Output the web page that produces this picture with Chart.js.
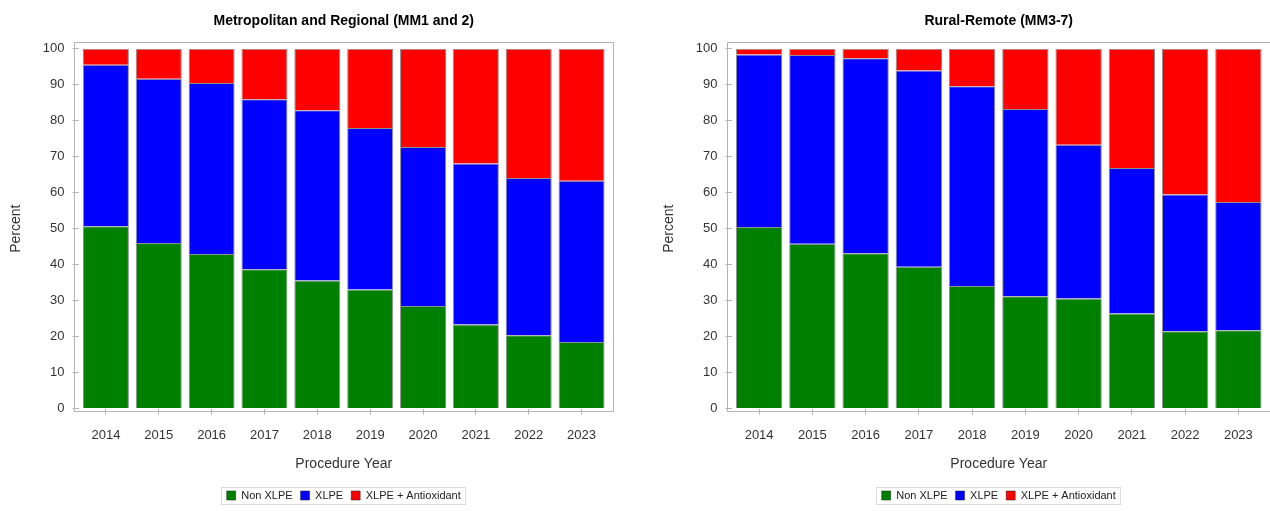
<!DOCTYPE html>
<html>
<head>
<meta charset="utf-8">
<script src="https://cdn.jsdelivr.net/npm/chart.js@4"></script>
<style>
  body { margin: 0; background: #fff; }
  .panel { position: absolute; top: 0; width: 635px; height: 511px; }
  #left { left: 0; }
  #right { left: 635px; }
</style>
</head>
<body>
<div class="panel" id="left"><canvas id="graficaMetro"></canvas></div>
<div class="panel" id="right"><canvas id="graficaRural"></canvas></div>
<script>
const years = ['2014','2015','2016','2017','2018','2019','2020','2021','2022','2023'];
const percentTicks = [0, 10, 20, 30, 40, 50, 60, 70, 80, 90, 100];
const seriesNames = ['Non XLPE', 'XLPE', 'XLPE + Antioxidant'];
const colors = ['#008000', '#0000FF', '#FF0000'];

// Metropolitan and Regional (MM1 and 2)
const metroNonXlpe = [50.7, 46.0, 43.0, 38.7, 35.6, 33.1, 28.5, 23.4, 20.4, 18.5];
const metroXlpe    = [44.9, 45.7, 47.5, 47.3, 47.3, 44.9, 44.2, 44.7, 43.7, 44.8];
const metroAntiox  = [4.4, 8.3, 9.5, 14.0, 17.1, 22.0, 27.3, 31.9, 35.9, 36.7];

// Rural-Remote (MM3-7)
const ruralNonXlpe = [50.5, 45.8, 43.2, 39.4, 34.1, 31.2, 30.6, 26.4, 21.5, 21.8];
const ruralXlpe    = [47.9, 52.5, 54.2, 54.6, 55.5, 52.1, 42.7, 40.5, 38.0, 35.6];
const ruralAntiox  = [1.6, 1.7, 2.6, 6.0, 10.4, 16.7, 26.7, 33.1, 40.5, 42.6];

const font = "'Liberation Sans Narrow', 'Liberation Sans', Arial, sans-serif";

// gray frame around the plot + border round the legend
const framePlugin = {
  id: 'frame',
  afterDraw(chart) {
    const ctx = chart.ctx;
    const a = chart.chartArea;
    ctx.save();
    ctx.strokeStyle = '#b4b4b4';
    ctx.lineWidth = 1;
    ctx.strokeRect(Math.round(a.left - 5) + 0.5, Math.round(a.top - 7) + 0.5,
                   Math.round(a.right - a.left + 10), Math.round(a.bottom - a.top + 9));
    const boxes = chart.legend.legendHitBoxes;
    if (boxes && boxes.length) {
      const l = Math.min(...boxes.map(b => b.left)) - 6;
      const r = Math.max(...boxes.map(b => b.left + b.width)) + 4;
      const t = boxes[0].top - 3;
      const h = boxes[0].height + 6;
      ctx.strokeStyle = '#dcdcdc';
      ctx.strokeRect(Math.round(l) + 0.5, Math.round(t) + 0.5, Math.round(r - l), Math.round(h));
    }
    ctx.restore();
  }
};

function makeChart(id, title, nonXlpe, xlpe, antiox, padLeft, padRight) {
  const data = {
    labels: years,
    datasets: [nonXlpe, xlpe, antiox].map((vals, i) => ({
      label: seriesNames[i],
      data: vals,
      backgroundColor: colors[i],
      borderColor: 'rgba(30,30,30,0.5)',
      borderWidth: 1,
      categoryPercentage: 1,
      barPercentage: 0.87
    }))
  };

  const config = {
    type: 'bar',
    data: data,
    options: {
      responsive: true,
      maintainAspectRatio: false,
      animation: false,
      layout: { padding: { left: padLeft, right: padRight, top: 0, bottom: 0 } },
      plugins: {
        title: {
          display: true,
          text: title,
          fullSize: false,
          color: '#000',
          font: { family: font, size: 14, weight: 'bold' },
          padding: { top: 13, bottom: 19 }
        },
        legend: {
          display: true,
          position: 'bottom',
          fullSize: false,
          labels: {
            color: '#222',
            font: { family: font, size: 11 },
            boxWidth: 9,
            boxHeight: 9,
            padding: 8,
            useBorderRadius: false
          }
        },
        tooltip: { enabled: false }
      },
      scales: {
        x: {
          stacked: true,
          grid: { display: true, drawOnChartArea: false, offset: false, tickLength: 6, tickColor: '#b4b4b4' },
          border: { display: false },
          ticks: { color: '#333', font: { family: font, size: 13 }, padding: 13, maxRotation: 0 },
          title: {
            display: true,
            text: 'Procedure Year',
            color: '#333',
            font: { family: font, size: 14 },
            padding: { top: 0, bottom: 9 }
          }
        },
        y: {
          stacked: true,
          min: 0,
          max: 100,
          afterBuildTicks: (scale) => { scale.ticks = percentTicks.map(v => ({ value: v })); },
          grid: { display: true, drawOnChartArea: false, tickLength: 7, tickColor: '#b4b4b4' },
          border: { display: false },
          ticks: { color: '#333', font: { family: font, size: 13 }, padding: 8 },
          title: {
            display: true,
            text: 'Percent',
            color: '#333',
            font: { family: font, size: 14 },
            padding: { top: 6, bottom: 10 }
          }
        }
      }
    },
    plugins: [framePlugin]
  };
  new Chart(document.getElementById(id), config);
}

makeChart('graficaMetro', 'Metropolitan and Regional (MM1 and 2)', metroNonXlpe, metroXlpe, metroAntiox, 2, 27);
makeChart('graficaRural', 'Rural-Remote (MM3-7)', ruralNonXlpe, ruralXlpe, ruralAntiox, 20, 5);
</script>
</body>
</html>
